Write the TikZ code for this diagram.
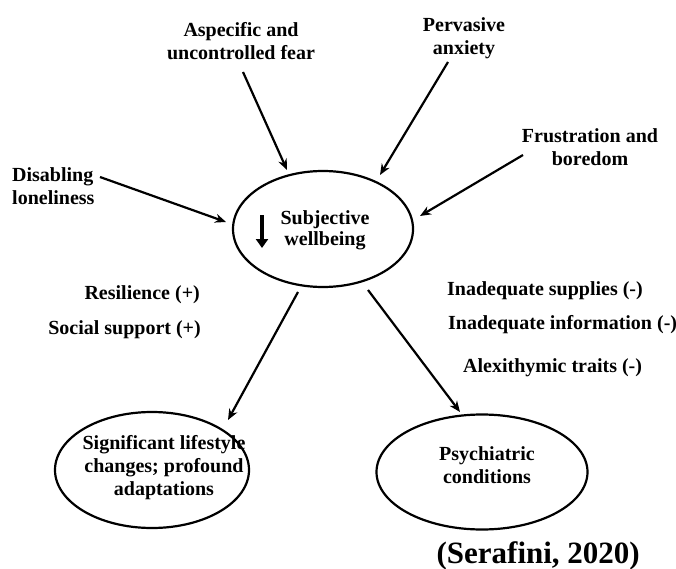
\documentclass[tikz,border=0pt]{standalone}
\usepackage{fontspec}
\setmainfont{Liberation Serif}
\usetikzlibrary{shapes.geometric,arrows.meta}
\begin{document}
\begin{tikzpicture}[x=1pt,y=-1pt,
  lbl/.style={font=\bfseries\fontsize{20}{23}\selectfont, align=center, inner sep=0pt},
  oval/.style={draw, ellipse, line width=2.2pt, inner sep=0pt},
  arr/.style={line width=2.2pt, -{Stealth[length=11pt,width=9pt]}}]
\useasboundingbox (0,0) rectangle (676,569);
\node[oval, minimum width=180pt, minimum height=116pt] (sw) at (323,229) {};
\node[lbl, font=\bfseries\fontsize{20}{21}\selectfont] (swt) at (325,230) {Subjective\\wellbeing};
\coordinate (da1) at (262,215);
\coordinate (da2) at (262,248);
\draw[line width=4.5pt, -{Triangle[length=9pt,width=12pt]}] (da1) -- (da2);

\node[oval, minimum width=194pt, minimum height=116pt] (lc) at (152,470) {};
\node[lbl] (lct) at (164,468) {Significant lifestyle\\changes; profound\\adaptations};
\node[oval, minimum width=211pt, minimum height=115pt] (pc) at (482,472) {};
\node[lbl] (pct) at (487,465) {Psychiatric\\conditions};

\node[lbl] (fear) at (241,41) {Aspecific and\\uncontrolled fear};
\node[lbl] (anx) at (464,38) {Pervasive\\anxiety};
\node[lbl] (fru) at (590,147) {Frustration and\\boredom};
\node[lbl, align=left, anchor=west] (lon) at (12,186) {Disabling\\loneliness};

\coordinate (fearS) at (243,72);
\coordinate (fearE) at (287,170);
\coordinate (anxS) at (448,62);
\coordinate (anxE) at (380,175);
\coordinate (fruS) at (523,155);
\coordinate (fruE) at (420,216);
\coordinate (lonS) at (100,177);
\coordinate (lonE) at (226,222);
\coordinate (lcS) at (298,292);
\coordinate (lcE) at (228,420);
\coordinate (pcS) at (368,290);
\coordinate (pcE) at (460,412);
\draw[arr] (fearS) -- (fearE);
\draw[arr] (anxS) -- (anxE);
\draw[arr] (fruS) -- (fruE);
\draw[arr] (lonS) -- (lonE);
\draw[arr] (lcS) -- (lcE);
\draw[arr] (pcS) -- (pcE);

\node[lbl, anchor=east] (res) at (200,295) {Resilience (+)};
\node[lbl, anchor=east] (soc) at (201,330) {Social support (+)};
\node[lbl, anchor=west] (sup) at (447,291) {Inadequate supplies (-)};
\node[lbl, anchor=west] (inf) at (448,325) {Inadequate information (-)};
\node[lbl, anchor=west] (ale) at (463,368) {Alexithymic traits (-)};

\node[font=\bfseries\fontsize{31}{34}\selectfont, anchor=base east, inner sep=0pt] (cite) at (640,563) {(Serafini, 2020)};
\end{tikzpicture}
\end{document}
